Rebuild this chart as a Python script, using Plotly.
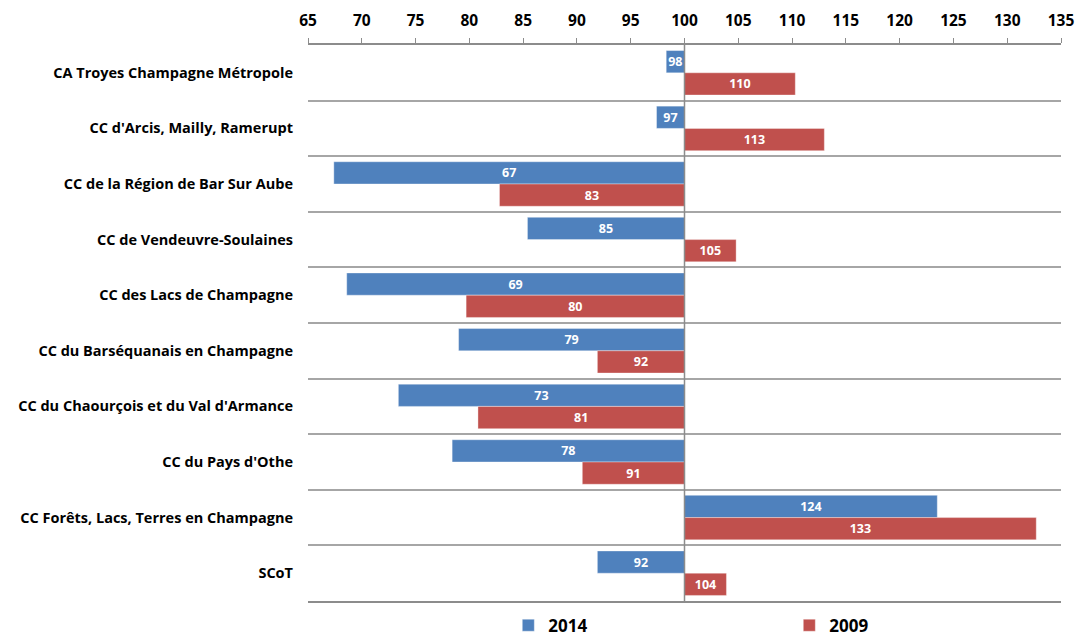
import plotly.graph_objects as go

# Indices by territory, base 100 = reference
territoires = [
    "CA Troyes Champagne Métropole",
    "CC d'Arcis, Mailly, Ramerupt",
    "CC de la Région de Bar Sur Aube",
    "CC de Vendeuvre-Soulaines",
    "CC des Lacs de Champagne",
    "CC du Barséquanais en Champagne",
    "CC du Chaourçois et du Val d'Armance",
    "CC du Pays d'Othe",
    "CC Forêts, Lacs, Terres en Champagne",
    "SCoT",
]
indice_2014 = [98.3, 97.4, 67.4, 85.4, 68.6, 79.0, 73.4, 78.4, 123.5, 91.9]
indice_2009 = [110.3, 113.0, 82.8, 104.8, 79.7, 91.9, 80.8, 90.5, 132.7, 103.9]
base = 100
tick_values = list(range(65, 140, 5))

BLUE = "#4F81BD"
RED = "#C0504D"
FONT = "Open Sans"


def series(name, values, color):
    return go.Bar(
        name=name,
        y=territoires,
        x=[v - base for v in values],
        base=base,
        orientation="h",
        customdata=values,
        texttemplate="%{customdata:.0f}",
        textposition="inside",
        insidetextanchor="middle",
        textangle=0,
        textfont=dict(family=FONT, size=12.5, color="white", weight="bold"),
        marker=dict(color=color, line=dict(color="rgba(255,255,255,0.6)", width=0.6)),
        hovertemplate="%{y}<br>" + name + " : %{customdata:.1f}<extra></extra>",
    )


fig = go.Figure([series("2014", indice_2014, BLUE), series("2009", indice_2009, RED)])

fig.update_layout(
    width=1082,
    height=643,
    margin=dict(l=308, r=21, t=45, b=42, autoexpand=False),
    paper_bgcolor="white",
    plot_bgcolor="white",
    barmode="group",
    bargap=0.2,
    bargroupgap=0,
    uniformtext=dict(minsize=12.5, mode="show"),
    font=dict(family=FONT, color="black"),
    legend=dict(
        orientation="h",
        x=0.266,
        xanchor="left",
        y=-0.012,
        yanchor="top",
        entrywidth=236,
        itemwidth=30,
        tracegroupgap=0,
        font=dict(family=FONT, size=17, color="black", weight="bold"),
    ),
    showlegend=True,
)

fig.update_xaxes(
    side="top",
    range=[65, 135],
    tickvals=tick_values,
    ticks="outside",
    ticklen=5,
    tickcolor="#8c8c8c",
    showline=True,
    mirror=True,
    linecolor="#8c8c8c",
    linewidth=1.5,
    showgrid=False,
    zeroline=False,
    tickfont=dict(family=FONT, size=15.5, color="black", weight="bold"),
    ticklabelstandoff=6,
)

fig.update_yaxes(
    type="category",
    autorange="reversed",
    tickson="boundaries",
    showgrid=True,
    gridcolor="#a6a6a6",
    gridwidth=1.5,
    ticks="",
    showline=False,
    zeroline=False,
    tickfont=dict(family=FONT, size=14.5, color="black", weight="bold"),
    ticklabelstandoff=14,
)

# Reference line at the base value
fig.add_shape(
    type="line",
    xref="x",
    yref="paper",
    x0=base,
    x1=base,
    y0=0,
    y1=1,
    line=dict(color="#8c8c8c", width=1.5),
    layer="above",
)

fig.write_html("out.html")
